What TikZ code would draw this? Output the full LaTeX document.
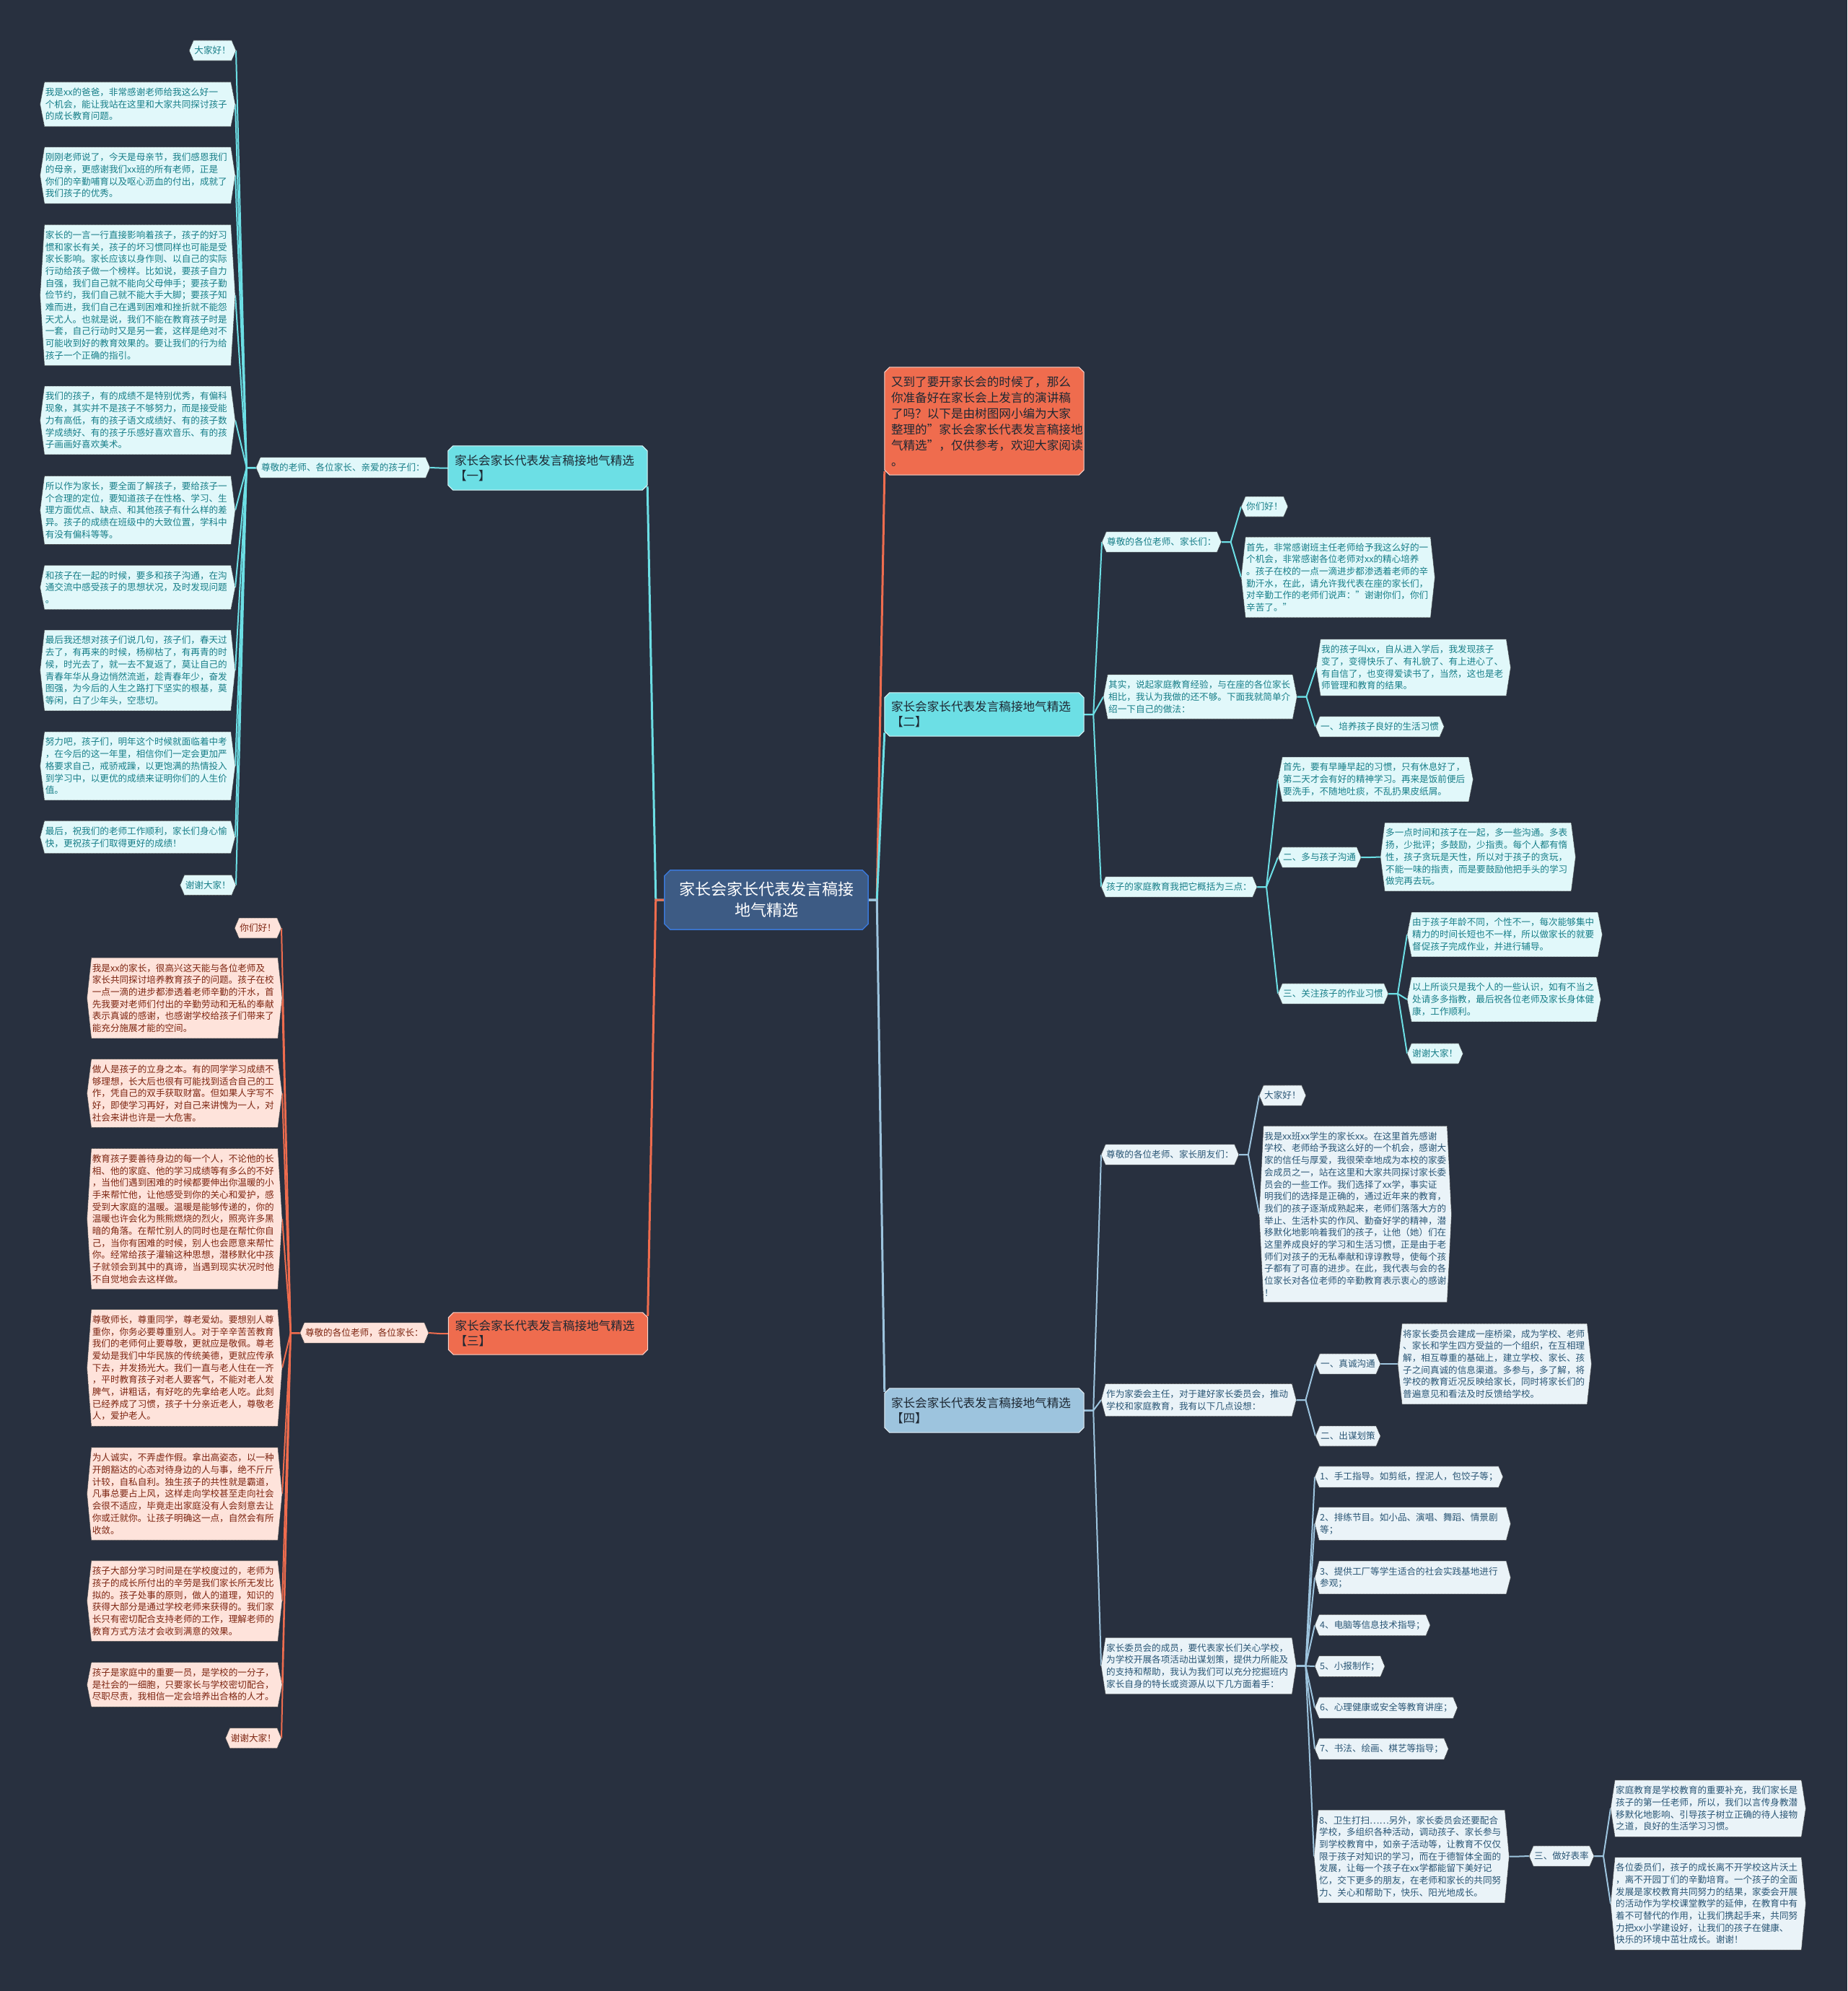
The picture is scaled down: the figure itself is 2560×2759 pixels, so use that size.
\documentclass[tikz,border=0pt]{standalone}
\usepackage{fontspec}
\setmainfont{Noto Sans CJK SC}
\pgfdeclarelayer{bg}\pgfdeclarelayer{edges}\pgfdeclarelayer{boxes}
\pgfsetlayers{bg,edges,boxes,main}
\definecolor{bgc}{HTML}{28303F}
\definecolor{cyanc}{HTML}{6CDFE5}
\definecolor{coralc}{HTML}{EF6C4E}
\definecolor{bluec}{HTML}{9DC4DE}
\definecolor{ctrfill}{HTML}{3D5B84}
\definecolor{ctrdraw}{HTML}{3A78D8}
\definecolor{cf}{HTML}{E1F8FA}
\definecolor{ct}{HTML}{177E88}
\definecolor{rf}{HTML}{FEE3DB}
\definecolor{rt}{HTML}{7D2511}
\definecolor{bf}{HTML}{EAF3F8}
\definecolor{bt}{HTML}{2A5675}
\definecolor{brtxt}{HTML}{1E2833}
\tikzset{
 leaftxt/.style={inner xsep=1pt, inner ysep=8pt, align=left, font=\fontsize{12.6}{16.7}\selectfont},
 leafborder/.style={draw=black!75, line width=0.6pt, dash pattern=on 1.2pt off 0.8pt},
 brtext/.style={inner xsep=9pt, inner ysep=8pt, text width=258pt, align=left, text=brtxt, font=\fontsize{16.6}{21}\selectfont},
 mainc/.style={draw=cyanc, line width=3pt},
 mainr/.style={draw=coralc, line width=3pt},
 mainb/.style={draw=bluec, line width=3pt},
 subc/.style={draw=cyanc, line width=2pt},
 subr/.style={draw=coralc, line width=2pt},
 subb/.style={draw=bluec, line width=2pt},
}
\newcommand\leaf[5][]{%
 \node[leaftxt, text=#4t, #1] (#2) at (#3) {#5};
 \begin{pgfonlayer}{boxes}
 \draw[leafborder, fill=#4f] ([xshift=-6pt]#2.west) -- (#2.north west) -- (#2.north east) -- ([xshift=6pt]#2.east) -- (#2.south east) -- (#2.south west) -- cycle;
 \end{pgfonlayer}}
\newcommand\cham[3]{%
 \begin{pgfonlayer}{boxes}
 \draw[#2] ([xshift=#3]#1.north west) -- ([xshift=-#3]#1.north east) -- ([yshift=-#3]#1.north east) -- ([yshift=#3]#1.south east) -- ([xshift=-#3]#1.south east) -- ([xshift=#3]#1.south west) -- ([yshift=#3]#1.south west) -- ([yshift=-#3]#1.north west) -- cycle;
 \end{pgfonlayer}}
\newcommand\fanL[3]{\foreach \nd in {#3}{\draw[#1] (#2) -- ++(-13,0) -- ([xshift=6pt]\nd.east);}}
\newcommand\fanR[3]{\foreach \nd in {#3}{\draw[#1] (#2) -- ++(13,0) -- ([xshift=-6pt]\nd.west);}}
\begin{document}
\begin{tikzpicture}[x=1pt,y=-1pt]
\useasboundingbox (0,0) rectangle (2560,2759);
\begin{pgfonlayer}{bg}\fill[bgc] (0,0) rectangle (2560,2759);\end{pgfonlayer}

% centre and main branches
\node[text width=260pt, inner xsep=11pt, minimum height=82pt, align=center, text=white, font=\fontsize{22}{29}\selectfont] (ctr) at (1062,1247) {家长会家长代表发言稿接\\地气精选};
\cham{ctr}{fill=ctrfill, draw=ctrdraw, line width=1.5pt}{8pt}

\node[brtext, minimum height=61pt] (b1) at (759,648.5) {家长会家长代表发言稿接地气精选\\【一】};
\cham{b1}{fill=cyanc, draw=white!75!cyanc, line width=1pt}{7pt}
\node[brtext, minimum height=149pt, font=\fontsize{16.6}{22}\selectfont] (intro) at (1364,583.5) {又到了要开家长会的时候了，那么\\你准备好在家长会上发言的演讲稿\\了吗？以下是由树图网小编为大家\\整理的"家长会家长代表发言稿接地\\气精选"，仅供参考，欢迎大家阅读\\。};
\cham{intro}{fill=coralc, draw=white!70!coralc, line width=1pt}{7pt}
\node[brtext, minimum height=60pt] (b2) at (1364,990) {家长会家长代表发言稿接地气精选\\【二】};
\cham{b2}{fill=cyanc, draw=white!75!cyanc, line width=1pt}{7pt}
\node[brtext, minimum height=58pt] (b3) at (759.5,1848) {家长会家长代表发言稿接地气精选\\【三】};
\cham{b3}{fill=coralc, draw=white!70!coralc, line width=1pt}{7pt}
\node[brtext, minimum height=61pt] (b4) at (1364,1954.5) {家长会家长代表发言稿接地气精选\\【四】};
\cham{b4}{fill=bluec, draw=white!70!bluec, line width=1pt}{7pt}

% branch one
\leaf[anchor=east]{lab1}{590,648}{c}{尊敬的老师、各位家长、亲爱的孩子们：}
\leaf[anchor=east]{l1a}{321,70}{c}{大家好！}
\leaf[anchor=east, text width=256pt]{l1b}{320,144.5}{c}{我是xx的爸爸，非常感谢老师给我这么好一\\个机会，能让我站在这里和大家共同探讨孩子\\的成长教育问题。}
\leaf[anchor=east, text width=256pt]{l1c}{320,243}{c}{刚刚老师说了，今天是母亲节，我们感恩我们\\的母亲，更感谢我们xx班的所有老师，正是\\你们的辛勤哺育以及呕心沥血的付出，成就了\\我们孩子的优秀。}
\leaf[anchor=east, text width=256pt]{l1d}{320,409}{c}{家长的一言一行直接影响着孩子，孩子的好习\\惯和家长有关，孩子的坏习惯同样也可能是受\\家长影响。家长应该以身作则、以自己的实际\\行动给孩子做一个榜样。比如说，要孩子自力\\自强，我们自己就不能向父母伸手；要孩子勤\\俭节约，我们自己就不能大手大脚；要孩子知\\难而进，我们自己在遇到困难和挫折就不能怨\\天尤人。也就是说，我们不能在教育孩子时是\\一套，自己行动时又是另一套，这样是绝对不\\可能收到好的教育效果的。要让我们的行为给\\孩子一个正确的指引。}
\leaf[anchor=east, text width=256pt]{l1e}{320,582.5}{c}{我们的孩子，有的成绩不是特别优秀，有偏科\\现象，其实并不是孩子不够努力，而是接受能\\力有高低，有的孩子语文成绩好、有的孩子数\\学成绩好、有的孩子乐感好喜欢音乐、有的孩\\子画画好喜欢美术。}
\leaf[anchor=east, text width=256pt]{l1f}{320,707}{c}{所以作为家长，要全面了解孩子，要给孩子一\\个合理的定位，要知道孩子在性格、学习、生\\理方面优点、缺点、和其他孩子有什么样的差\\异。孩子的成绩在班级中的大致位置，学科中\\有没有偏科等等。}
\leaf[anchor=east, text width=256pt]{l1g}{320,814}{c}{和孩子在一起的时候，要多和孩子沟通，在沟\\通交流中感受孩子的思想状况，及时发现问题\\。}
\leaf[anchor=east, text width=256pt]{l1h}{320,929}{c}{最后我还想对孩子们说几句，孩子们，春天过\\去了，有再来的时候，杨柳枯了，有再青的时\\候，时光去了，就一去不复返了，莫让自己的\\青春年华从身边悄然流逝，趁青春年少，奋发\\图强，为今后的人生之路打下坚实的根基，莫\\等闲，白了少年头，空悲切。}
\leaf[anchor=east, text width=256pt]{l1i}{320,1061.5}{c}{努力吧，孩子们，明年这个时候就面临着中考\\，在今后的这一年里，相信你们一定会更加严\\格要求自己，戒骄戒躁，以更饱满的热情投入\\到学习中，以更优的成绩来证明你们的人生价\\值。}
\leaf[anchor=east, text width=256pt]{l1j}{320,1160}{c}{最后，祝我们的老师工作顺利，家长们身心愉\\快，更祝孩子们取得更好的成绩！}
\leaf[anchor=east]{l1k}{321,1226.5}{c}{谢谢大家！}

% branch three
\leaf[anchor=east]{lab3}{588,1847}{r}{尊敬的各位老师，各位家长：}
\leaf[anchor=east]{r0}{384,1286}{r}{你们好！}
\leaf[anchor=east, text width=256pt]{r1}{385,1383}{r}{我是xx的家长，很高兴这天能与各位老师及\\家长共同探讨培养教育孩子的问题。孩子在校\\一点一滴的进步都渗透着老师辛勤的汗水，首\\先我要对老师们付出的辛勤劳动和无私的奉献\\表示真诚的感谢，也感谢学校给孩子们带来了\\能充分施展才能的空间。}
\leaf[anchor=east, text width=256pt]{r2}{385,1515}{r}{做人是孩子的立身之本。有的同学学习成绩不\\够理想，长大后也很有可能找到适合自己的工\\作，凭自己的双手获取财富。但如果人字写不\\好，即使学习再好，对自己来讲愧为一人，对\\社会来讲也许是一大危害。}
\leaf[anchor=east, text width=256pt]{r3}{385,1689}{r}{教育孩子要善待身边的每一个人，不论他的长\\相、他的家庭、他的学习成绩等有多么的不好\\，当他们遇到困难的时候都要伸出你温暖的小\\手来帮忙他，让他感受到你的关心和爱护，感\\受到大家庭的温暖。温暖是能够传递的，你的\\温暖也许会化为熊熊燃烧的烈火，照亮许多黑\\暗的角落。在帮忙别人的同时也是在帮忙你自\\己，当你有困难的时候，别人也会愿意来帮忙\\你。经常给孩子灌输这种思想，潜移默化中孩\\子就领会到其中的真谛，当遇到现实状况时他\\不自觉地会去这样做。}
\leaf[anchor=east, text width=256pt]{r4}{385,1895.5}{r}{尊敬师长，尊重同学，尊老爱幼。要想别人尊\\重你，你务必要尊重别人。对于辛辛苦苦教育\\我们的老师何止要尊敬，更就应是敬佩。尊老\\爱幼是我们中华民族的传统美德，更就应传承\\下去，并发扬光大。我们一直与老人住在一齐\\，平时教育孩子对老人要客气，不能对老人发\\脾气，讲粗话，有好吃的先拿给老人吃。此刻\\已经养成了习惯，孩子十分亲近老人，尊敬老\\人，爱护老人。}
\leaf[anchor=east, text width=256pt]{r5}{385,2070}{r}{为人诚实，不弄虚作假。拿出高姿态，以一种\\开朗豁达的心态对待身边的人与事，绝不斤斤\\计较，自私自利。独生孩子的共性就是霸道，\\凡事总要占上风，这样走向学校甚至走向社会\\会很不适应，毕竟走出家庭没有人会刻意去让\\你或迁就你。让孩子明确这一点，自然会有所\\收敛。}
\leaf[anchor=east, text width=256pt]{r6}{385,2218.5}{r}{孩子大部分学习时间是在学校度过的，老师为\\孩子的成长所付出的辛劳是我们家长所无发比\\拟的。孩子处事的原则，做人的道理，知识的\\获得大部分是通过学校老师来获得的。我们家\\长只有密切配合支持老师的工作，理解老师的\\教育方式方法才会收到满意的效果。}
\leaf[anchor=east, text width=256pt]{r7}{385,2334.5}{r}{孩子是家庭中的重要一员，是学校的一分子，\\是社会的一细胞，只要家长与学校密切配合，\\尽职尽责，我相信一定会培养出合格的人才。}
\leaf[anchor=east]{r8}{384,2408.5}{r}{谢谢大家！}

% branch two
\leaf[anchor=west]{b2l1}{1533,751}{c}{尊敬的各位老师、家长们：}
\leaf[anchor=west]{b2a}{1726,702}{c}{你们好！}
\leaf[anchor=west, text width=254pt]{b2b}{1726,800}{c}{首先，非常感谢班主任老师给予我这么好的一\\个机会，非常感谢各位老师对xx的精心培养\\。孩子在校的一点一滴进步都渗透着老师的辛\\勤汗水，在此，请允许我代表在座的家长们，\\对辛勤工作的老师们说声："谢谢你们，你们\\辛苦了。"}
\leaf[anchor=west, text width=254pt]{b2l2}{1535,965.5}{c}{其实，说起家庭教育经验，与在座的各位家长\\相比，我认为我做的还不够。下面我就简单介\\绍一下自己的做法：}
\leaf[anchor=west, text width=255pt]{b2c}{1830,925}{c}{我的孩子叫xx，自从进入学后，我发现孩子\\变了，变得快乐了、有礼貌了、有上进心了、\\有自信了，也变得爱读书了，当然，这也是老\\师管理和教育的结果。}
\leaf[anchor=west]{b2d}{1829,1007}{c}{一、培养孩子良好的生活习惯}
\leaf[anchor=west]{b2l3}{1532,1229}{c}{孩子的家庭教育我把它概括为三点：}
\leaf[anchor=west, text width=256pt]{b2e}{1777,1080}{c}{首先，要有早睡早起的习惯，只有休息好了，\\第二天才会有好的精神学习。再来是饭前便后\\要洗手，不随地吐痰，不乱扔果皮纸屑。}
\leaf[anchor=west]{b2f}{1777,1188}{c}{二、多与孩子沟通}
\leaf[anchor=west, text width=256pt]{b2g}{1919,1187.5}{c}{多一点时间和孩子在一起，多一些沟通。多表\\扬，少批评；多鼓励，少指责。每个人都有惰\\性，孩子贪玩是天性，所以对于孩子的贪玩，\\不能一味的指责，而是要鼓励他把手头的学习\\做完再去玩。}
\leaf[anchor=west]{b2h}{1777,1377}{c}{三、关注孩子的作业习惯}
\leaf[anchor=west, text width=256pt]{b2i}{1956,1295}{c}{由于孩子年龄不同，个性不一，每次能够集中\\精力的时间长短也不一样，所以做家长的就要\\督促孩子完成作业，并进行辅导。}
\leaf[anchor=west, text width=254pt]{b2j}{1956,1385}{c}{以上所谈只是我个人的一些认识，如有不当之\\处请多多指教，最后祝各位老师及家长身体健\\康，工作顺利。}
\leaf[anchor=west]{b2k}{1956,1460}{c}{谢谢大家！}

% branch four
\leaf[anchor=west]{b4l1}{1532,1600}{b}{尊敬的各位老师、家长朋友们：}
\leaf[anchor=west]{b4a}{1751,1518}{b}{大家好！}
\leaf[anchor=west, text width=252pt]{b4b}{1751,1682.5}{b}{我是xx班xx学生的家长xx。在这里首先感谢\\学校、老师给予我这么好的一个机会，感谢大\\家的信任与厚爱，我很荣幸地成为本校的家委\\会成员之一，站在这里和大家共同探讨家长委\\员会的一些工作。我们选择了xx学，事实证\\明我们的选择是正确的，通过近年来的教育，\\我们的孩子逐渐成熟起来，老师们落落大方的\\举止、生活朴实的作风、勤奋好学的精神，潜\\移默化地影响着我们的孩子，让他（她）们在\\这里养成良好的学习和生活习惯，正是由于老\\师们对孩子的无私奉献和谆谆教导，使每个孩\\子都有了可喜的进步。在此，我代表与会的各\\位家长对各位老师的辛勤教育表示衷心的感谢\\！}
\leaf[anchor=west, text width=256pt]{b4l2}{1532,1940}{b}{作为家委会主任，对于建好家长委员会，推动\\学校和家庭教育，我有以下几点设想：}
\leaf[anchor=west]{b4c}{1829,1890}{b}{一、真诚沟通}
\leaf[anchor=west, text width=254pt]{b4d}{1943,1890}{b}{将家长委员会建成一座桥梁，成为学校、老师\\、家长和学生四方受益的一个组织，在互相理\\解，相互尊重的基础上，建立学校、家长、孩\\子之间真诚的信息渠道。多参与，多了解，将\\学校的教育近况反映给家长，同时将家长们的\\普遍意见和看法及时反馈给学校。}
\leaf[anchor=west]{b4e}{1829,1990}{b}{二、出谋划策}
\leaf[anchor=west, text width=256pt]{b4l3}{1532,2308.5}{b}{家长委员会的成员，要代表家长们关心学校，\\为学校开展各项活动出谋划策，提供力所能及\\的支持和帮助，我认为我们可以充分挖掘班内\\家长自身的特长或资源从以下几方面着手：}
\leaf[anchor=west]{b4n1}{1828,2046.5}{b}{1、手工指导。如剪纸，捏泥人，包饺子等；}
\leaf[anchor=west, text width=257pt]{b4n2}{1828,2111.5}{b}{2、排练节目。如小品、演唱、舞蹈、情景剧\\等；}
\leaf[anchor=west, text width=257pt]{b4n3}{1828,2186}{b}{3、提供工厂等学生适合的社会实践基地进行\\参观；}
\leaf[anchor=west]{b4n4}{1828,2252}{b}{4、电脑等信息技术指导；}
\leaf[anchor=west]{b4n5}{1828,2309}{b}{5、小报制作；}
\leaf[anchor=west]{b4n6}{1828,2366.5}{b}{6、心理健康或安全等教育讲座；}
\leaf[anchor=west]{b4n7}{1828,2423.5}{b}{7、书法、绘画、棋艺等指导；}
\leaf[anchor=west, text width=256pt]{b4n8}{1827,2572.5}{b}{8、卫生打扫……另外，家长委员会还要配合\\学校，多组织各种活动，调动孩子、家长参与\\到学校教育中，如亲子活动等，让教育不仅仅\\限于孩子对知识的学习，而在于德智体全面的\\发展，让每一个孩子在xx学都能留下美好记\\忆，交下更多的朋友，在老师和家长的共同努\\力、关心和帮助下，快乐、阳光地成长。}
\leaf[anchor=west]{b4f}{2125,2572}{b}{三、做好表率}
\leaf[anchor=west, text width=256pt]{b4g}{2238,2506}{b}{家庭教育是学校教育的重要补充，我们家长是\\孩子的第一任老师，所以，我们以言传身教潜\\移默化地影响、引导孩子树立正确的待人接物\\之道，良好的生活学习习惯。}
\leaf[anchor=west, text width=256pt]{b4h}{2238,2638}{b}{各位委员们，孩子的成长离不开学校这片沃土\\，离不开园丁们的辛勤培育。一个孩子的全面\\发展是家校教育共同努力的结果，家委会开展\\的活动作为学校课堂教学的延伸，在教育中有\\着不可替代的作用，让我们携起手来，共同努\\力把xx小学建设好，让我们的孩子在健康、\\快乐的环境中茁壮成长。谢谢！}

% connectors
\begin{pgfonlayer}{edges}
\draw[mainc] (ctr.west) -- ++(-12,0) -- ([yshift=5pt]b1.south east);
\draw[mainr] (ctr.west) -- ++(-12,0) -- ([yshift=-5pt]b3.north east);
\draw[mainr] (ctr.east) -- ++(12,0) -- ([yshift=5pt]intro.south west);
\draw[mainc] (ctr.east) -- ++(12,0) -- ([yshift=5pt]b2.south west);
\draw[mainb] (ctr.east) -- ++(12,0) -- ([yshift=-5pt]b4.north west);
\draw[subc] (b1.west) -- ++(-12,0) -- ([xshift=6pt]lab1.east);
\fanL{subc}{[xshift=-6pt]lab1.west}{l1a,l1b,l1c,l1d,l1e,l1f,l1g,l1h,l1i,l1j,l1k}
\draw[subr] (b3.west) -- ++(-12,0) -- ([xshift=6pt]lab3.east);
\fanL{subr}{[xshift=-6pt]lab3.west}{r0,r1,r2,r3,r4,r5,r6,r7,r8}
\fanR{subc}{b2.east}{b2l1,b2l2,b2l3}
\fanR{subc}{[xshift=6pt]b2l1.east}{b2a,b2b}
\fanR{subc}{[xshift=6pt]b2l2.east}{b2c,b2d}
\fanR{subc}{[xshift=6pt]b2l3.east}{b2e,b2f,b2h}
\fanR{subc}{[xshift=6pt]b2f.east}{b2g}
\fanR{subc}{[xshift=6pt]b2h.east}{b2i,b2j,b2k}
\fanR{subb}{b4.east}{b4l1,b4l2,b4l3}
\fanR{subb}{[xshift=6pt]b4l1.east}{b4a,b4b}
\fanR{subb}{[xshift=6pt]b4l2.east}{b4c,b4e}
\fanR{subb}{[xshift=6pt]b4c.east}{b4d}
\fanR{subb}{[xshift=6pt]b4l3.east}{b4n1,b4n2,b4n3,b4n4,b4n5,b4n6,b4n7,b4n8}
\fanR{subb}{[xshift=6pt]b4n8.east}{b4f}
\fanR{subb}{[xshift=6pt]b4f.east}{b4g,b4h}
\end{pgfonlayer}
\end{tikzpicture}
\end{document}
